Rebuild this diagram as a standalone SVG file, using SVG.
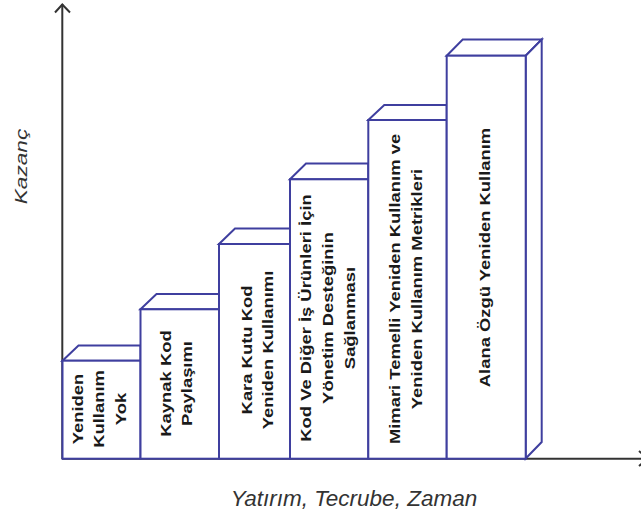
<svg xmlns="http://www.w3.org/2000/svg" width="641" height="518" viewBox="0 0 641 518">
<style>
.face{fill:#fff;stroke:#3f3f9f;stroke-width:2;stroke-linejoin:miter}
.axis{fill:none;stroke:#333;stroke-width:2}
.lbl{font-family:"Liberation Sans",Arial,sans-serif;font-weight:bold;font-size:14.5px;fill:#1a1a1a;text-anchor:middle}
.ax{font-family:"Liberation Sans",Arial,sans-serif;font-style:italic;fill:#333;text-anchor:middle}
</style>
<rect width="641" height="518" fill="#fff"/>
<g id="axes">
<line class="axis" x1="62.3" y1="4" x2="62.3" y2="459"/>
<polyline class="axis" points="55,12.5 62.3,4.5 70,12.5"/>
<line class="axis" x1="62" y1="458.7" x2="641" y2="458.7"/>
<polyline class="axis" points="639,451 648,458.7 639,466"/>
</g>
<g id="bar1">
<polygon class="face" points="62.5,360.7 78.5,345.5 140.5,345.5 140.5,360.7"/>
<rect class="face" x="62.5" y="360.7" width="78" height="98"/>
<text class="lbl" transform="translate(83,409) rotate(-90) scale(1.27,1)"><tspan x="0" y="0">Yeniden</tspan><tspan x="0" dy="21.5">Kullanım</tspan><tspan x="0" dy="21.5">Yok</tspan></text>
</g>
<g id="bar2">
<polygon class="face" points="140.5,309.3 156.5,294 219,294 219,309.3"/>
<rect class="face" x="140.5" y="309.3" width="78.5" height="149.4"/>
<text class="lbl" transform="translate(171,383.5) rotate(-90) scale(1.27,1)"><tspan x="0" y="0">Kaynak Kod</tspan><tspan x="0" dy="21.5">Paylaşımı</tspan></text>
</g>
<g id="bar3">
<polygon class="face" points="219,244 235,228.5 290,228.5 290,244"/>
<rect class="face" x="219" y="244" width="71" height="214.7"/>
<text class="lbl" transform="translate(251.7,350) rotate(-90) scale(1.27,1)"><tspan x="0" y="0">Kara Kutu Kod</tspan><tspan x="0" dy="21.6">Yeniden Kullanımı</tspan></text>
</g>
<g id="bar4">
<polygon class="face" points="290,179.3 306,163.5 368.3,163.5 368.3,179.3"/>
<rect class="face" x="290" y="179.3" width="78.3" height="279.4"/>
<text class="lbl" transform="translate(311,318) rotate(-90) scale(1.27,1)"><tspan x="0" y="0">Kod Ve Diğer İş Ürünleri İçin</tspan><tspan x="0" dy="21.8">Yönetim Desteğinin</tspan><tspan x="0" dy="21.8">Sağlanması</tspan></text>
</g>
<g id="bar5">
<polygon class="face" points="368.3,120 384.3,105 446.7,105 446.7,120"/>
<rect class="face" x="368.3" y="120" width="78.4" height="338.7"/>
<text class="lbl" transform="translate(400,289) rotate(-90) scale(1.27,1)"><tspan x="0" y="0">Mimari Temelli Yeniden Kullanım ve</tspan><tspan x="0" dy="21.6">Yeniden Kullanım Metrikleri</tspan></text>
</g>
<g id="bar6">
<polygon class="face" points="446.7,55.7 462.7,39.5 541.7,39.5 525.7,55.7"/>
<polygon class="face" points="525.7,55.7 541.7,39.5 541.7,442 525.7,458.5"/>
<rect class="face" x="446.7" y="55.7" width="79" height="403"/>
<text class="lbl" transform="translate(490,257.5) rotate(-90) scale(1.27,1)">Alana Özgü Yeniden Kullanım</text>
</g>
<g id="labels">
<text class="ax" font-size="16" transform="translate(26.5,166.5) rotate(-90) scale(1.42,1)">Kazanç</text>
<text class="ax" font-size="22.5" x="354" y="506">Yatırım, Tecrube, Zaman</text>
</g>
</svg>
